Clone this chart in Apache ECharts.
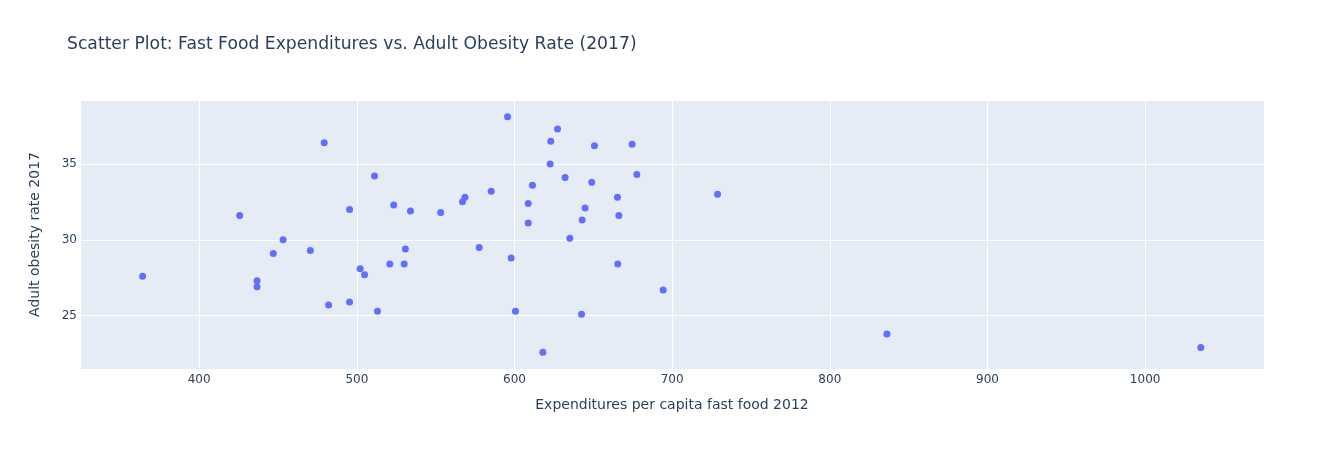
<!DOCTYPE html>
<html>
<head>
<meta charset="utf-8">
<title>Fast Food Expenditures vs. Adult Obesity Rate</title>
<script src="https://cdn.jsdelivr.net/npm/echarts@6/dist/echarts.min.js"></script>
<style>
  html, body { margin: 0; padding: 0; background: #fff; }
  #chart { width: 1344px; height: 450px; }
</style>
</head>
<body>
<div id="chart"></div>
<script>
// fast food spend per capita, 2012
const expenditures = [
  364.1, 425.7, 436.7, 436.7, 447.0, 453.2, 470.5, 479.3, 482.1, 495.4,
  495.4, 502.1, 504.9, 511.2, 513.1, 520.9, 523.4, 530.0, 530.8, 534.0,
  553.2, 567.0, 568.6, 577.6, 585.2, 595.6, 597.9, 600.6, 608.7, 608.7,
  611.4, 618.0, 622.6, 623.0, 627.3, 632.1, 635.1, 642.5, 642.9, 644.8,
  649.0, 650.7, 665.3, 665.5, 666.2, 674.6, 677.6, 694.3, 728.8, 836.2,
  1035.3
];
// adult obesity rate, 2017 (same order)
const obesityRates = [
  27.6, 31.6, 27.3, 26.9, 29.1, 30.0, 29.3, 36.4, 25.7, 32.0,
  25.9, 28.1, 27.7, 34.2, 25.3, 28.4, 32.3, 28.4, 29.4, 31.9,
  31.8, 32.5, 32.8, 29.5, 33.2, 38.1, 28.8, 25.3, 32.4, 31.1,
  33.6, 22.6, 35.0, 36.5, 37.3, 34.1, 30.1, 25.1, 31.3, 32.1,
  33.8, 36.2, 32.8, 28.4, 31.6, 36.3, 34.3, 26.7, 33.0, 23.8,
  22.9
];
const xRange = [324.4, 1075.4];
const yRange = [21.49, 39.21];

const FONT = '"DejaVu Sans", verdana, arial, sans-serif';
const TEXT = '#2a3f5f';

const points = expenditures.map((x, i) => [x, obesityRates[i]]);

const chart = echarts.init(document.getElementById('chart'));
chart.setOption({
  animation: false,
  backgroundColor: '#fff',
  textStyle: {fontFamily: FONT, color: TEXT},
  title: {
    text: 'Scatter Plot: Fast Food Expenditures vs. Adult Obesity Rate (2017)',
    left: 62,
    top: 31,
    textStyle: {fontFamily: FONT, fontSize: 17.2, fontWeight: 'normal', color: TEXT}
  },
  grid: {left: 80, right: 80, top: 100, bottom: 81, show: true, backgroundColor: '#e5ecf6', borderWidth: 0},
  xAxis: {
    type: 'value',
    min: xRange[0],
    max: xRange[1],
    minInterval: 100,
    maxInterval: 100,
    name: 'Expenditures per capita fast food 2012',
    nameLocation: 'middle',
    nameGap: 29,
    nameTextStyle: {fontFamily: FONT, fontSize: 14, color: TEXT},
    axisLine: {show: false},
    axisTick: {show: false},
    axisLabel: {
      fontFamily: FONT, fontSize: 12, color: TEXT, margin: 5,
      showMinLabel: false, showMaxLabel: false,
      formatter: v => String(v)
    },
    splitLine: {show: true, lineStyle: {color: '#fff', width: 1}}
  },
  yAxis: {
    type: 'value',
    min: yRange[0],
    max: yRange[1],
    minInterval: 5,
    maxInterval: 5,
    name: 'Adult obesity rate 2017',
    nameLocation: 'middle',
    nameGap: 38,
    nameRotate: 90,
    nameTextStyle: {fontFamily: FONT, fontSize: 14, color: TEXT},
    axisLine: {show: false},
    axisTick: {show: false},
    axisLabel: {fontFamily: FONT, fontSize: 12, color: TEXT, margin: 3, showMinLabel: false, showMaxLabel: false},
    splitLine: {show: true, lineStyle: {color: '#fff', width: 1}}
  },
  series: [{
    type: 'scatter',
    data: points,
    symbolSize: 7,
    itemStyle: {color: '#636efa', opacity: 1}
  }]
});
</script>
</body>
</html>
